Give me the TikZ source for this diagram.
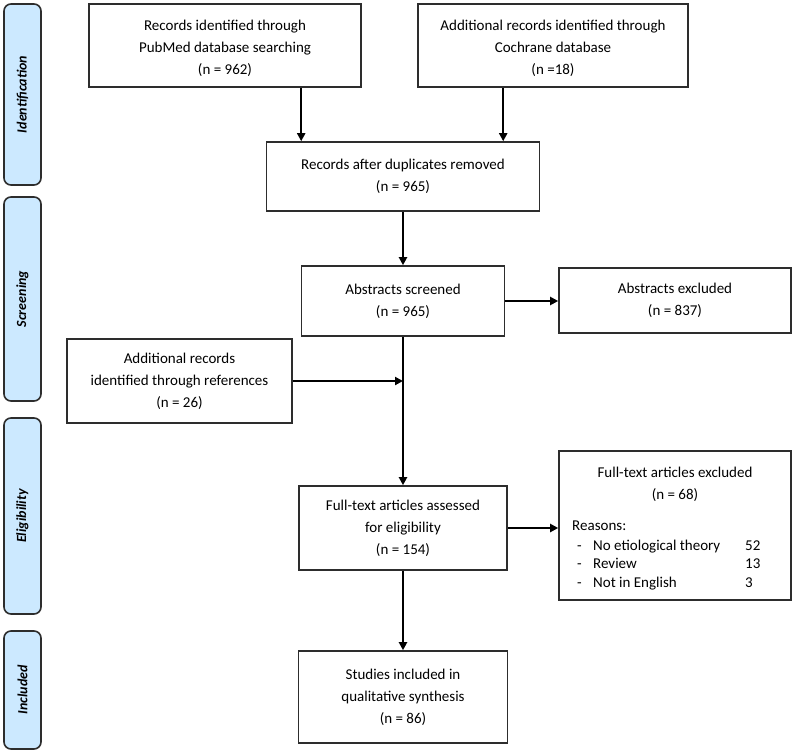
\documentclass[tikz,border=0pt]{standalone}
\usepackage{fontspec}
\setmainfont{Carlito}
\usetikzlibrary{arrows.meta,calc}
\definecolor{phase}{RGB}{204,233,255}
\definecolor{edge}{RGB}{45,45,45}
\tikzset{
 box/.style={draw=edge, line width=1.6pt, align=center, inner sep=0pt, font=\fontsize{15}{22}\selectfont},
 phasebar/.style={draw=edge, line width=1.6pt, fill=phase, rounded corners=7pt, rotate=90, inner sep=0pt, font=\fontsize{14}{16}\selectfont\bfseries\itshape},
 txt/.style={inner sep=0pt, font=\fontsize{15}{22}\selectfont},
 arr/.style={draw=black, line width=2pt, -{Triangle[length=8pt,width=8pt]}},
}
\begin{document}
\begin{tikzpicture}[x=1pt,y=-1pt]
\useasboundingbox (0,0) rectangle (795,753);
% phase bars
\node[phasebar, minimum width=181, minimum height=37] (p1) at (22.5,94.5) {Identification};
\node[phasebar, minimum width=204, minimum height=37] (p2) at (22.5,299) {Screening};
\node[phasebar, minimum width=196, minimum height=37] (p3) at (22.5,516) {Eligibility};
\node[phasebar, minimum width=118, minimum height=37] (p4) at (22.5,690) {Included};
% boxes
\node[box, minimum width=272, minimum height=83] (b1) at (225,45.5) {};
\node[txt, align=center] (b1t) at (225,48.5) {Records identified through\\PubMed database searching\\(n = 962)};
\node[box, minimum width=270, minimum height=83] (b2) at (553,45.5) {};
\node[txt, align=center] (b2t) at (553,48.5) {Additional records identified through\\Cochrane database\\(n =18)};
\node[box, minimum width=273, minimum height=69] (b3) at (403,176.5) {Records after duplicates removed\\(n = 965)};
\node[box, minimum width=203, minimum height=70] (abs) at (403,301) {Abstracts screened\\(n = 965)};
\node[box, minimum width=232, minimum height=65] (absex) at (675,300.5) {Abstracts excluded\\(n = 837)};
\node[box, minimum width=225, minimum height=84] (ref) at (179.5,381) {Additional records\\identified through references\\(n = 26)};
\node[box, minimum width=208, minimum height=84] (ft) at (403,528) {Full-text articles assessed\\for eligibility\\(n = 154)};
\node[box, minimum width=232, minimum height=149] (ftex) at (675,525.5) {};
\node[box, minimum width=209, minimum height=92] (inc) at (403,697) {Studies included in\\qualitative synthesis\\(n = 86)};
% excluded box content
\node[txt, align=center] (fth) at (675,484.5) {Full-text articles excluded\\(n = 68)};
\node[txt, anchor=base west] (rs) at (572,530) {Reasons:};
\node[txt, anchor=base west] (d1) at (577,550) {-};
\node[txt, anchor=base west] (d2) at (577,568.5) {-};
\node[txt, anchor=base west] (d3) at (577,587) {-};
\node[txt, anchor=base west] (r1) at (593,550) {No etiological theory};
\node[txt, anchor=base west] (r2) at (593,568.5) {Review};
\node[txt, anchor=base west] (r3) at (593,587) {Not in English};
\node[txt, anchor=base west] (n1) at (745,550) {52};
\node[txt, anchor=base west] (n2) at (745,568.5) {13};
\node[txt, anchor=base west] (n3) at (745,587) {3};
% arrows
\draw[arr] ([xshift=213pt]b1.south west) -- ([xshift=213pt]b1.south west |- b3.north);
\draw[arr] ([xshift=86pt]b2.south west) -- ([xshift=86pt]b2.south west |- b3.north);
\draw[arr] (b3.south) -- (b3.south |- abs.north);
\draw[arr] (abs.east) -- (absex.west |- abs.east);
\draw[arr] (abs.south) -- (abs.south |- ft.north);
\draw[arr] (ref.east) -- (ref.east -| abs.south);
\draw[arr] (ft.east) -- (ftex.west |- ft.east);
\draw[arr] (ft.south) -- (ft.south |- inc.north);
\end{tikzpicture}
\end{document}
